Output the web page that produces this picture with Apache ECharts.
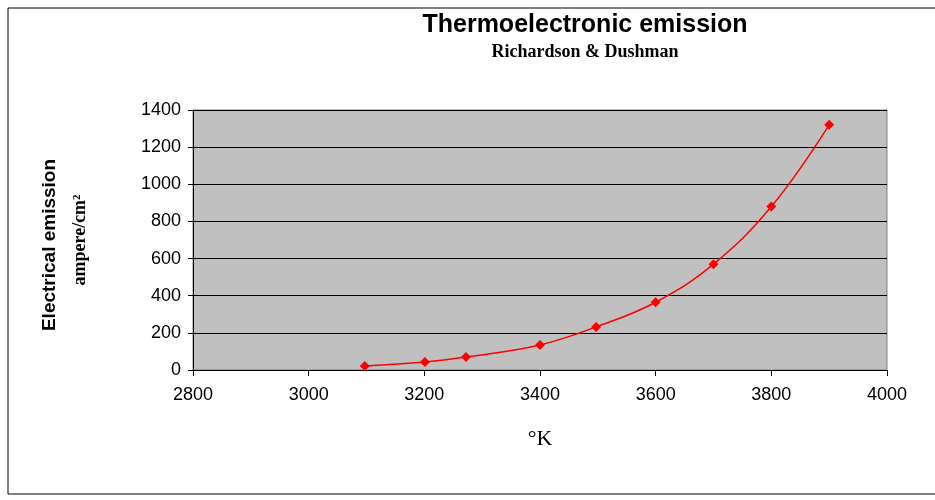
<!DOCTYPE html><html><head><meta charset="utf-8"><script src="https://cdn.jsdelivr.net/npm/echarts@6/dist/echarts.min.js"></script></head><body style="margin:0;background:#fff"><div id="c" style="width:935px;height:500px"></div><script>
const temps=[3097,3201,3272,3400,3497,3600,3700,3800,3900];
const emission=[22,43,70,135,232,365,570,880,1320];
const ch=echarts.init(document.getElementById('c'));
ch.setOption({animation:false,
graphic:[{type:'rect',shape:{x:8,y:8,width:940,height:486},style:{fill:'none',stroke:'#000',lineWidth:1}},
{type:'text',x:50,y:245,rotation:Math.PI/2,style:{text:'Electrical emission',font:'bold 19px Liberation Sans',fill:'#000',align:'center',verticalAlign:'middle'}},
{type:'text',x:80,y:240,rotation:Math.PI/2,style:{text:'ampere/cm²',font:'bold 18px Liberation Serif',fill:'#000',align:'center',verticalAlign:'middle'}}],
title:{text:'Thermoelectronic emission',subtext:'Richardson & Dushman',left:580,top:8,textAlign:'center',itemGap:5,
textStyle:{fontFamily:'Liberation Sans',fontWeight:'bold',fontSize:25,color:'#000'},
subtextStyle:{fontFamily:'Liberation Serif',fontWeight:'bold',fontSize:18,color:'#000'}},
grid:{left:193,right:48,top:110,bottom:130,show:true,backgroundColor:'#c0c0c0',borderColor:'#808080'},
xAxis:{type:'value',min:2800,max:4000,interval:200,name:'°K',nameLocation:'middle',nameGap:58,
nameTextStyle:{fontFamily:'Liberation Serif',fontSize:22,color:'#000'},
axisLine:{lineStyle:{color:'#000'}},axisTick:{show:true,length:6,lineStyle:{color:'#000'}},
axisLabel:{fontFamily:'Liberation Sans',fontSize:18,color:'#000',margin:16,formatter:v=>String(v)},splitLine:{show:false}},
yAxis:{type:'value',min:0,max:1400,interval:200,axisLine:{show:true,lineStyle:{color:'#000'}},axisTick:{show:true,lineStyle:{color:'#000'}},
axisLabel:{fontFamily:'Liberation Sans',fontSize:18,color:'#000',margin:12,formatter:v=>String(v)},splitLine:{lineStyle:{color:'#000',width:1}}},
series:[{type:'line',smooth:0.4,data:temps.map((t,i)=>[t,emission[i]]),symbol:'diamond',symbolSize:10,
lineStyle:{color:'#ff0000',width:1.5},itemStyle:{color:'#ff0000'}}]});
</script></body></html>
